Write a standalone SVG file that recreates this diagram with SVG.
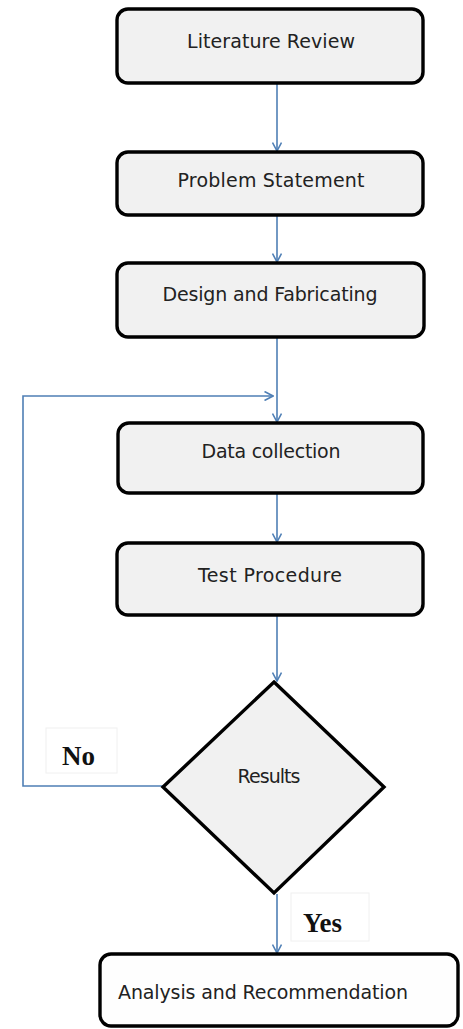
<svg xmlns="http://www.w3.org/2000/svg" width="463" height="1029" viewBox="0 0 463 1029">
  <style>
    .box { fill: #f1f1f1; stroke: #000; stroke-width: 3.4; }
    .box-white { fill: #fefefe; stroke: #000; stroke-width: 3.4; }
    .lbl { font-family: "DejaVu Sans", Verdana, sans-serif; font-size: 19px; fill: #222; }
    .tag { font-family: "Liberation Serif", "Times New Roman", serif; font-size: 27px; font-weight: bold; fill: #111; }
    .tagbox { fill: #fff; stroke: #f0f0f0; stroke-width: 1; }
    .link { fill: none; stroke: #4f7fb5; stroke-width: 1.6; marker-end: url(#arrow); }
  </style>
  <defs>
    <marker id="arrow" viewBox="0 0 10 10" refX="9.5" refY="5" markerWidth="10" markerHeight="10" markerUnits="userSpaceOnUse" orient="auto">
      <path d="M1,0.5 L9.5,5 L1,9.5" fill="none" stroke="#4f7fb5" stroke-width="1.6"/>
    </marker>
  </defs>

  <rect width="463" height="1029" fill="#fff"/>

  <!-- connectors -->
  <g id="connectors">
    <line class="link" x1="277" y1="84" x2="277" y2="151"/>
    <line class="link" x1="277" y1="216" x2="277" y2="262"/>
    <line class="link" x1="277" y1="338" x2="277" y2="422"/>
    <line class="link" x1="277" y1="494" x2="277" y2="542"/>
    <line class="link" x1="277" y1="616" x2="277" y2="681"/>
    <line class="link" x1="277" y1="894" x2="277" y2="953"/>
    <polyline class="link" points="163,786 23,786 23,396 273,396"/>
  </g>

  <!-- branch labels -->
  <g id="label-no">
    <rect class="tagbox" x="46" y="728" width="71" height="45"/>
    <text class="tag" x="62" y="765">No</text>
  </g>
  <g id="label-yes">
    <rect class="tagbox" x="291" y="893" width="78" height="48"/>
    <text class="tag" x="303" y="932">Yes</text>
  </g>

  <!-- process steps -->
  <g id="literature-review">
    <rect class="box" x="117" y="9" width="306" height="74" rx="11"/>
    <text class="lbl" x="271" y="48" text-anchor="middle" textLength="168" lengthAdjust="spacing">Literature Review</text>
  </g>
  <g id="problem-statement">
    <rect class="box" x="117" y="152" width="306" height="63" rx="11"/>
    <text class="lbl" x="271" y="187" text-anchor="middle" textLength="187" lengthAdjust="spacing">Problem Statement</text>
  </g>
  <g id="design-fabricating">
    <rect class="box" x="117" y="263" width="307" height="74" rx="11"/>
    <text class="lbl" x="270" y="301" text-anchor="middle" textLength="215" lengthAdjust="spacing">Design and Fabricating</text>
  </g>
  <g id="data-collection">
    <rect class="box" x="118" y="423" width="305" height="70" rx="11"/>
    <text class="lbl" x="271" y="458" text-anchor="middle" textLength="139" lengthAdjust="spacing">Data collection</text>
  </g>
  <g id="test-procedure">
    <rect class="box" x="117" y="543" width="306" height="72" rx="11"/>
    <text class="lbl" x="270" y="582" text-anchor="middle" textLength="144" lengthAdjust="spacing">Test Procedure</text>
  </g>

  <!-- decision -->
  <g id="results">
    <polygon class="box" points="274,682 384,787 274,893 163,787"/>
    <text class="lbl" x="269" y="783" text-anchor="middle" textLength="63" lengthAdjust="spacing">Results</text>
  </g>

  <!-- outcome -->
  <g id="analysis-recommendation">
    <rect class="box-white" x="100" y="954" width="358" height="72" rx="11"/>
    <text class="lbl" x="118" y="999" textLength="290" lengthAdjust="spacing">Analysis and Recommendation</text>
  </g>
</svg>
